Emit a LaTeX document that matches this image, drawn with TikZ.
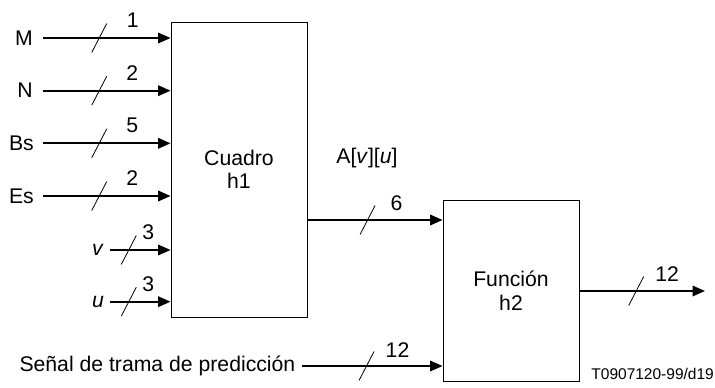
\documentclass[tikz,border=0pt]{standalone}
\usepackage{fontspec}
\setmainfont{Liberation Sans}
\usetikzlibrary{arrows.meta}
\begin{document}
\begin{tikzpicture}[x=1pt,y=-1pt,
  every node/.style={font=\fontsize{21.2}{23.5}\selectfont},
  sig/.style={line width=1.9pt,-{Triangle[length=12.5pt,width=10.5pt]}},
  blk/.style={draw,line width=0.9pt,minimum width=136pt,align=center,inner sep=0pt},
  inlbl/.style={anchor=east,inner ysep=2pt,inner xsep=#1},
  slashline/.style={line width=0.8pt},
  pics/bus/.style n args={3}{code={
    \draw[slashline] (-7.5,14.5) -- (7.5,-14.5);
    \node (-n) at (#2,#3) {#1};}}
]
\useasboundingbox (0,0) rectangle (715,388);

% blocks
\node[blk,minimum height=295pt] (b1) at (239,169.5) {Cuadro\\h1};
\node[blk,minimum height=181pt] (b2) at (511,290.5) {Función\\h2};

% input labels
\node[inlbl=10pt] (M)  at (43,38)  {M};
\node[inlbl=10pt] (N)  at (43,90.7)  {N};
\node[inlbl=9pt]  (Bs) at (43,143.3) {Bs};
\node[inlbl=9pt]  (Es) at (43,196) {Es};
\node[inlbl=6pt]  (v)  at (110,250) {\textit{v}};
\node[inlbl=6pt]  (u)  at (110,301.7) {\textit{u}};
\node[inlbl=6.5pt] (s) at (302,366) {Señal de trama de predicción};
\node (A) at (367,158) {A[\textit{v}][\textit{u}]};
\node[anchor=east,inner sep=1pt,font=\fontsize{15.5}{18}\selectfont] (ref) at (715,374) {T0907120-99/d19};
\coordinate (out) at (705,291);

% connectors
\draw[sig] (M)  -- coordinate[pos=0.441] (sM)  (M -| b1.west);
\draw[sig] (N)  -- coordinate[pos=0.441] (sN)  (N -| b1.west);
\draw[sig] (Bs) -- coordinate[pos=0.441] (sBs) (Bs -| b1.west);
\draw[sig] (Es) -- coordinate[pos=0.441] (sEs) (Es -| b1.west);
\draw[sig] (v)  -- coordinate[pos=0.31] (sv)  (v -| b1.west);
\draw[sig] (u)  -- coordinate[pos=0.31] (su)  (u -| b1.west);
\draw[sig] (b1.east |- 0,220) coordinate (a0) -- coordinate[pos=0.445] (sA) (a0 -| b2.west);
\draw[sig] (s)  -- coordinate[pos=0.459] (ss)  (s -| b2.west);
\draw[sig] (b2.east |- out) -- coordinate[pos=0.452] (so) (out);

% bus-width marks
\pic (pM)  at (sM)  {bus={1}{33.5}{-18}};
\pic (pN)  at (sN)  {bus={2}{33}{-18}};
\pic (pBs) at (sBs) {bus={5}{33}{-18}};
\pic (pEs) at (sEs) {bus={2}{33}{-18}};
\pic (pv)  at (sv)  {bus={3}{19.5}{-17.5}};
\pic (pu)  at (su)  {bus={3}{19.5}{-17.5}};
\pic (pA)  at (sA)  {bus={6}{29}{-17}};
\pic (ps)  at (ss)  {bus={12}{31}{-15.5}};
\pic (po)  at (so)  {bus={12}{31}{-17}};
\end{tikzpicture}
\end{document}
